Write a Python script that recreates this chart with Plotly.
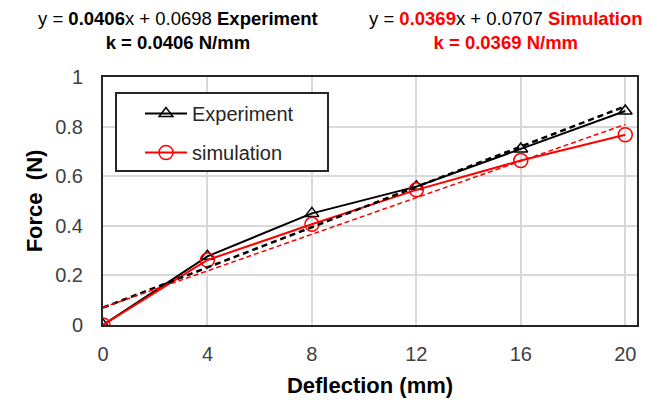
import plotly.graph_objects as go

deflection = [0, 4, 8, 12, 16, 20]
force_experiment = [0.0, 0.277, 0.450, 0.558, 0.710, 0.863]
force_simulation = [0.0, 0.262, 0.406, 0.545, 0.663, 0.767]

fit_exp = (0.0406, 0.0698)
fit_sim = (0.0369, 0.0707)
fit_x = [0, 20]

x_ticks = [0, 4, 8, 12, 16, 20]
y_ticks = [0, 0.2, 0.4, 0.6, 0.8, 1]
y_tick_labels = ["0", "0.2", "0.4", "0.6", "0.8", "1"]

FONT = "Liberation Sans, Arial, sans-serif"

fig = go.Figure()
fig.add_trace(go.Scatter(
    x=deflection, y=force_experiment, name="Experiment", mode="lines+markers",
    line=dict(color="black", width=2),
    marker=dict(symbol="triangle-up-open", size=12, color="black", line=dict(width=1.5)),
    legendgroup="a"))
fig.add_trace(go.Scatter(
    x=deflection, y=force_simulation, name="simulation", mode="lines+markers",
    line=dict(color="#ff0000", width=2),
    marker=dict(symbol="circle-open", size=14, color="#ff0000", line=dict(width=1.5)),
    legendgroup="b"))
fig.add_trace(go.Scatter(
    x=fit_x, y=[fit_exp[0] * v + fit_exp[1] for v in fit_x], mode="lines",
    line=dict(color="black", width=2.5, dash="6px,4px"), showlegend=False, hoverinfo="skip"))
fig.add_trace(go.Scatter(
    x=fit_x, y=[fit_sim[0] * v + fit_sim[1] for v in fit_x], mode="lines",
    line=dict(color="#ff0000", width=1.5, dash="5px,3px"), showlegend=False, hoverinfo="skip"))

L, R, T, B = 103, 14, 77, 81
W, H = 651, 406
pw = W - L - R
ph = H - T - B

def px_x(p):
    return (p - L) / pw

def px_y(p):
    return (H - B - p) / ph

fig.update_layout(
    width=W, height=H,
    margin=dict(l=L, r=R, t=T, b=B),
    paper_bgcolor="white", plot_bgcolor="white",
    font=dict(family=FONT, color="#404040"),
    showlegend=True,
    legend=dict(x=px_x(140), y=px_y(94), xanchor="left", yanchor="top",
                bgcolor="rgba(0,0,0,0)", borderwidth=0,
                font=dict(family=FONT, size=20, color="#262626"),
                itemwidth=42, tracegroupgap=10),
    xaxis=dict(range=[0, 20.45], tickvals=x_ticks, showgrid=True, gridcolor="#d9d9d9", gridwidth=1.5,
               showline=True, linecolor="#262626", linewidth=2, mirror=True, zeroline=False,
               ticks="", tickfont=dict(size=20, color="#404040"), automargin=False,
               ticklabelstandoff=10,
               title=dict(text="<b>Deflection (mm)</b>", font=dict(size=22, color="black"), standoff=14)),
    yaxis=dict(range=[0, 1], tickvals=y_ticks, ticktext=y_tick_labels, showgrid=True,
               gridcolor="#d9d9d9", gridwidth=1.5,
               showline=True, linecolor="#262626", linewidth=2, mirror=True, zeroline=False,
               ticks="", tickfont=dict(size=20, color="#404040"), automargin=False,
               ticklabelstandoff=14,
               title=dict(text="<b>Force  (N)</b>", font=dict(size=22, color="black"), standoff=6)),
)

# legend frame drawn as a shape, legend itself on top
fig.add_shape(type="rect", xref="paper", yref="paper",
              x0=px_x(116), x1=px_x(328), y0=px_y(171), y1=px_y(93),
              fillcolor="white", line=dict(color="#262626", width=2), layer="above")

def add_block(cx, cy, text):
    fig.add_annotation(x=px_x(cx), y=px_y(cy), xref="paper", yref="paper",
                       xanchor="center", yanchor="middle",
                       showarrow=False, text=text, align="center",
                       font=dict(family=FONT, size=18.5, color="black"))

add_block(178, 31, "y = <b>0.0406</b>x + 0.0698 <b>Experiment</b><br><b>k = 0.0406 N/mm</b>")
add_block(506, 31, "y = <b><span style='color:#ff0000'>0.0369</span></b>x + 0.0707 "
                   "<b><span style='color:#ff0000'>Simulation</span></b><br>"
                   "<b><span style='color:#ff0000'>k = 0.0369 N/mm</span></b>")

fig.write_html("out.html")
